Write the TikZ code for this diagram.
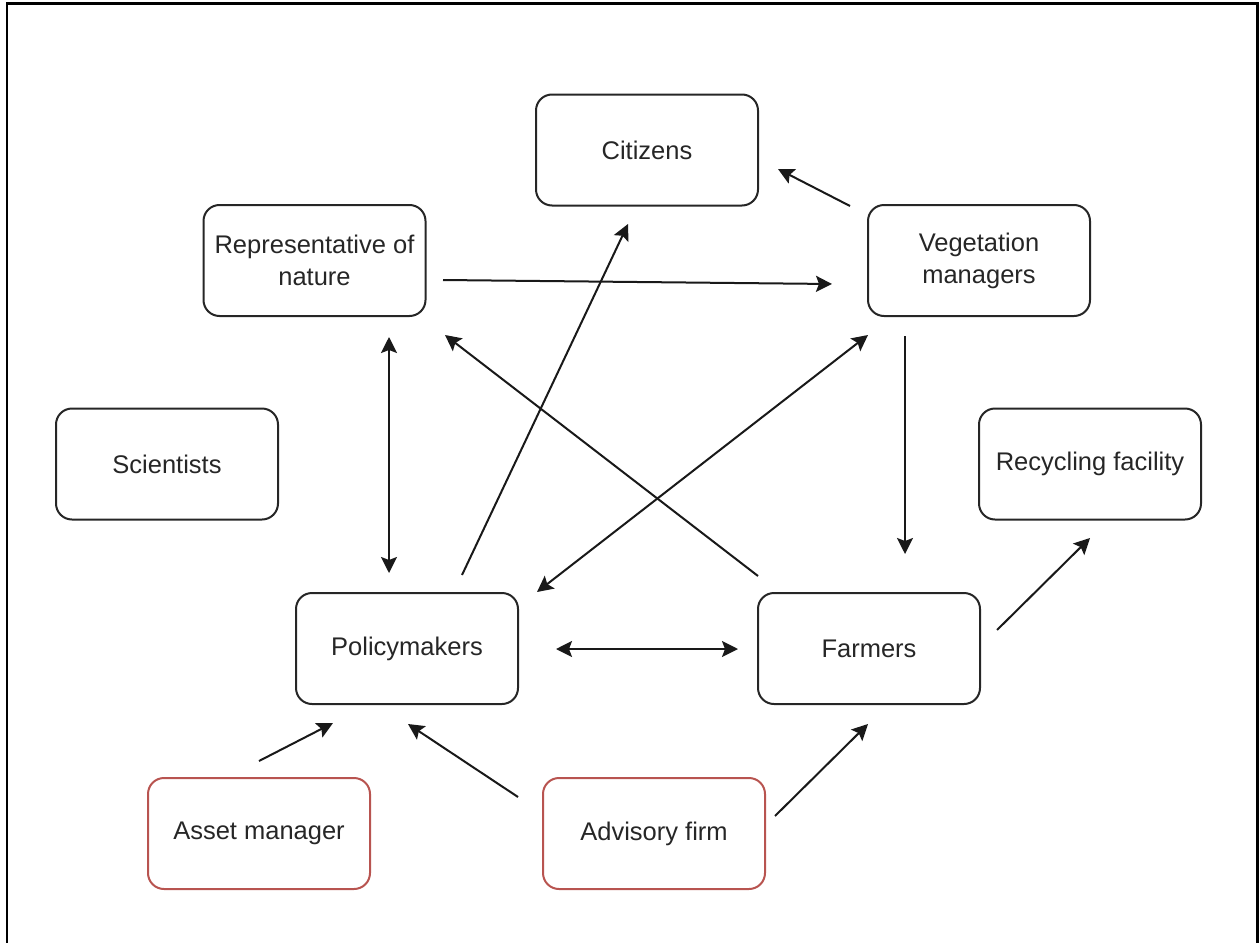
\documentclass[tikz,border=0pt]{standalone}
\usepackage{fontspec}
\setmainfont{Liberation Sans}
\usetikzlibrary{positioning, arrows.meta}
\definecolor{boxred}{HTML}{B85450}

\tikzset{
  actor/.style={draw=black!85, line width=2pt, rounded corners=16pt,
    minimum width=222pt, minimum height=111pt, align=center,
    text=black!85, font=\fontsize{25.5}{32}\selectfont},
  redactor/.style={actor, draw=boxred},
  arr/.style={line width=2pt, draw=black!90, -{Stealth[length=16pt, width=16pt, inset=3pt]}},
  darr/.style={arr, {Stealth[length=16pt, width=16pt, inset=3pt]}-{Stealth[length=16pt, width=16pt, inset=3pt]}}
}

\begin{document}
\begin{tikzpicture}[x=1pt, y=-1pt]
\useasboundingbox (0,0) rectangle (1260,942);
% outer frame (open at the bottom)
\draw[line width=2.5pt] (7,945) -- (7,3.5) -- (1257.5,3.5) -- (1257.5,945);

% actors
\node[actor] (cit) at (647,150) {Citizens};
\node[actor] (rep) at (314.5,260.5) {Representative of\\nature};
\node[actor] (veg) at (979,260.5) {Vegetation\\managers};
\node[actor] (sci) at (167,464) {Scientists};
\node[actor] (rec) at (1090,464) {Recycling facility};
\node[actor] (pol) at (407,648.5) {Policymakers};
\node[actor] (farm) at (869,648.5) {Farmers};
\node[redactor] (asset) at (259,833.5) {Asset manager};
\node[redactor] (adv) at (654,833.5) {Advisory firm};

% relations
\draw[arr] ([shift={(-129,-54.5)}]veg.center) -- ([shift={(131,19)}]cit.center);
\draw[arr] ([shift={(128.5,19.5)}]rep.center) -- ([shift={(-147,23.5)}]veg.center);
\draw[darr] ([shift={(74.5,76.5)}]rep.center) -- ([shift={(-18,-75.5)}]pol.center);
\draw[arr] ([shift={(-111,-72.5)}]farm.center) -- ([shift={(130.5,74.5)}]rep.center);
\draw[arr] ([shift={(55,-73.5)}]pol.center) -- ([shift={(-19,74)}]cit.center);
\draw[darr] ([shift={(130,-56.5)}]pol.center) -- ([shift={(-111,74.5)}]veg.center);
\draw[arr] ([shift={(-74,75.5)}]veg.center) -- ([shift={(36,-94.5)}]farm.center);
\draw[darr] ([shift={(149,0.5)}]pol.center) -- ([shift={(-131,0.5)}]farm.center);
\draw[arr] ([shift={(128,-18.5)}]farm.center) -- ([shift={(0,74)}]rec.center);
\draw[arr] ([shift={(0,-72.5)}]asset.center) -- ([shift={(-74,74.5)}]pol.center);
\draw[arr] ([shift={(-136,-36.5)}]adv.center) -- ([shift={(1,75.5)}]pol.center);
\draw[arr] ([shift={(121,-17.5)}]adv.center) -- ([shift={(-1,75.5)}]farm.center);
\end{tikzpicture}
\end{document}
